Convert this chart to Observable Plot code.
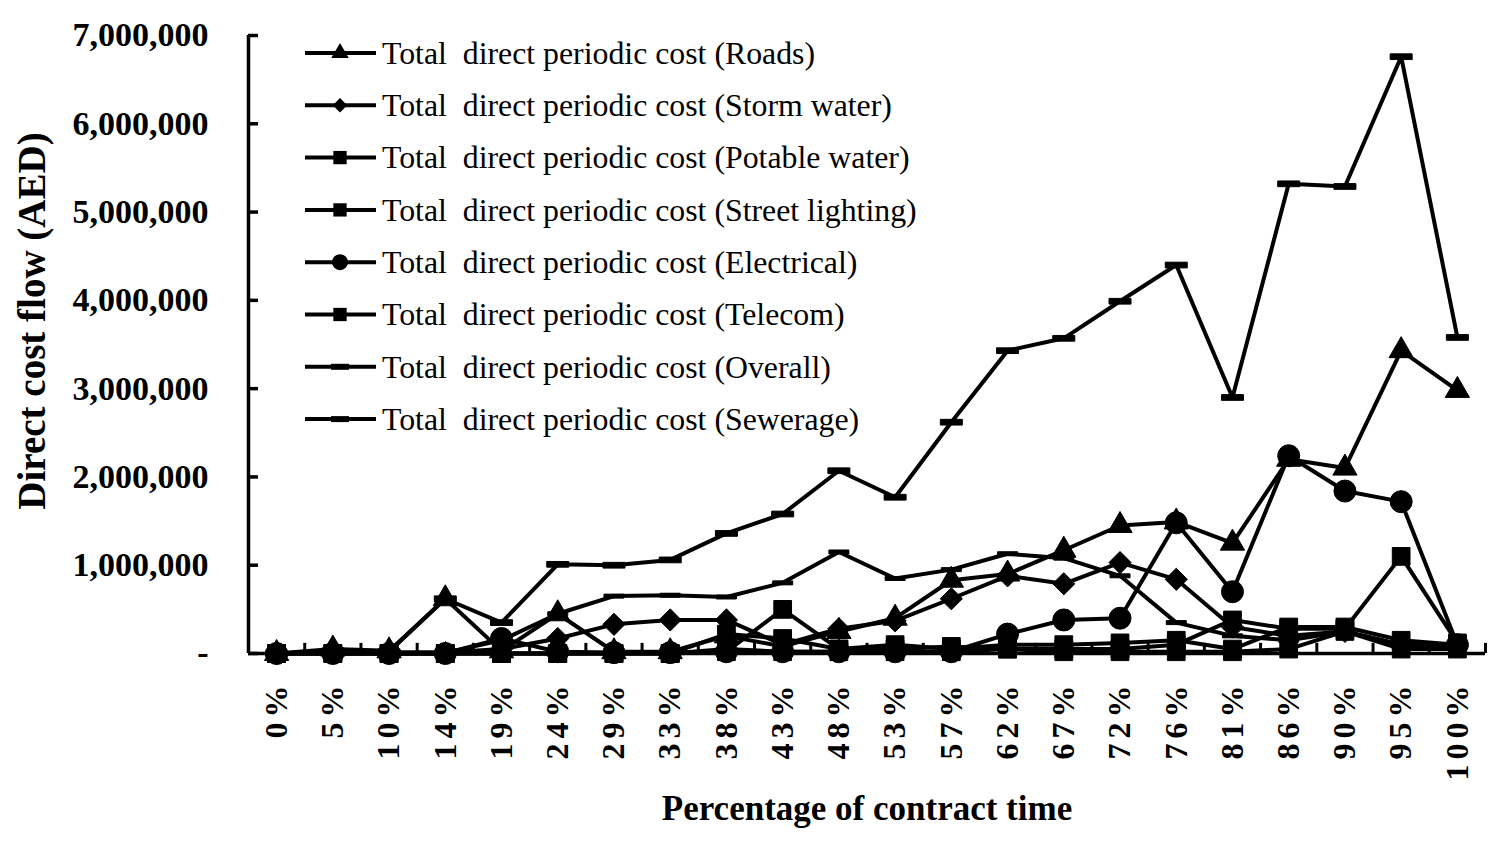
<!DOCTYPE html>
<html><head><meta charset="utf-8">
<script src="https://cdn.jsdelivr.net/npm/d3@7"></script>
<script src="https://cdn.jsdelivr.net/npm/@observablehq/plot@0.6"></script>
<style>
body{margin:0;background:#fff;}
svg{font-family:"Liberation Serif","Times New Roman",serif;}
</style>
</head><body><div id="chart"></div>
<script>
// ---- data (AED) ----
const categories = ["0%","5%","10%","14%","19%","24%","29%","33%","38%","43%","48%","53%","57%","62%","67%","72%","76%","81%","86%","90%","95%","100%"];
const roads       = [0, 50000, 30000, 620000, 30000, 450000, 20000, 20000, 200000, 80000, 250000, 400000, 830000, 900000, 1170000, 1450000, 1490000, 1250000, 2200000, 2100000, 3430000, 2980000];
const stormWater  = [0, 20000, 10000, 10000, 50000, 170000, 330000, 380000, 380000, 100000, 280000, 370000, 620000, 880000, 790000, 1030000, 840000, 300000, 200000, 250000, 100000, 80000];
const potable     = [0, 0, 0, 0, 0, 0, 0, 0, 20000, 500000, 50000, 50000, 80000, 50000, 50000, 50000, 100000, 380000, 280000, 280000, 1100000, 120000];
const streetLight = [0, 0, 0, 0, 0, 0, 0, 0, 220000, 170000, 50000, 100000, 50000, 100000, 100000, 120000, 150000, 50000, 300000, 300000, 150000, 100000];
const electrical  = [0, 0, 0, 0, 170000, 20000, 10000, 10000, 20000, 20000, 20000, 20000, 20000, 220000, 380000, 400000, 1480000, 700000, 2240000, 1840000, 1720000, 100000];
const telecom     = [0, 0, 0, 0, 0, 0, 0, 0, 50000, 20000, 20000, 20000, 20000, 50000, 20000, 20000, 20000, 20000, 50000, 250000, 50000, 50000];
const overall     = [0, 30000, 20000, 620000, 350000, 1010000, 1000000, 1060000, 1360000, 1580000, 2070000, 1770000, 2620000, 3430000, 3570000, 3990000, 4400000, 2900000, 5320000, 5290000, 6760000, 3580000];
const sewerage    = [0, 20000, 10000, 10000, 150000, 450000, 650000, 660000, 640000, 800000, 1150000, 850000, 950000, 1130000, 1080000, 880000, 350000, 200000, 150000, 250000, 100000, 80000];
const seriesNames = ["Roads","Storm water","Potable water","Street lighting","Electrical","Telecom","Overall","Sewerage"];
const yTicks = [0, 1000000, 2000000, 3000000, 4000000, 5000000, 6000000, 7000000];
const xTitle = "Percentage of contract time";
const yTitle = "Direct cost flow (AED)";

const dash = {draw(ctx, size){ const r = Math.sqrt(size/Math.PI); ctx.rect(-r, -r*0.26, 2*r, r*0.52); }};
const dashSmall = {draw(ctx, size){ const r = Math.sqrt(size/Math.PI); ctx.rect(-r, -r*0.2, 2*r, r*0.4); }};

const defs = [
  {name: seriesNames[0], values: roads,       symbol: "triangle", r: 9,  lr: 6.5},
  {name: seriesNames[1], values: stormWater,  symbol: "diamond2", r: 10, lr: 6.5},
  {name: seriesNames[2], values: potable,     symbol: "square",   r: 10, lr: 7.5},
  {name: seriesNames[3], values: streetLight, symbol: "square",   r: 10, lr: 7.5},
  {name: seriesNames[4], values: electrical,  symbol: "circle",   r: 11, lr: 8},
  {name: seriesNames[5], values: telecom,     symbol: "square",   r: 10, lr: 7.5},
  {name: seriesNames[6], values: overall,     symbol: dash,       r: 11, lr: 0},
  {name: seriesNames[7], values: sewerage,    symbol: dashSmall,  r: 10, lr: 0}
];
const data = defs.flatMap(s => s.values.map((v, i) => ({series: s.name, i, value: v})));

const fmt = d => d === 0 ? "-" : d3.format(",")(d);
const W = 1500, H = 841;

const chart = Plot.plot({
  width: W, height: H,
  marginLeft: 248, marginRight: 15, marginTop: 35, marginBottom: 188,
  style: {fontFamily: "Liberation Serif, Times New Roman, serif", background: "white", color: "black"},
  x: {type: "linear", domain: [-0.5, categories.length - 0.5], axis: null},
  y: {domain: [0, 7000000], axis: null},
  marks: [
    Plot.ruleY([0], {stroke: "black", strokeWidth: 3.5}),
    Plot.ruleX([-0.5], {stroke: "black", strokeWidth: 3.5}),
    Plot.ruleY(yTicks, {y: d => d, x1: -0.5, x2: -0.5 + 10/56.2, stroke: "black", strokeWidth: 3.5}),
    Plot.ruleX(categories, {x: (d, i) => i + 0.5, y1: 0, y2: 115000, stroke: "black", strokeWidth: 3}),
    Plot.text(yTicks, {x: -0.5, y: d => d, text: fmt, textAnchor: "end", dx: -40, fontSize: 34, fontWeight: "bold", fill: "black"}),
    Plot.text(categories, {x: (d, i) => i, y: 0, text: d => d, rotate: -90, textAnchor: "end", dy: 27, fontSize: 32, fontWeight: "bold", fill: "black"}),
    Plot.text([xTitle], {frameAnchor: "bottom", text: d => d, dy: 166, fontSize: 35, fontWeight: "bold", fill: "black"}),
    Plot.line(data, {x: "i", y: "value", z: "series", stroke: "black", strokeWidth: 4, strokeLinejoin: "miter"}),
    ...defs.map(s => Plot.dot(data.filter(d => d.series === s.name), {x: "i", y: "value", symbol: s.symbol, r: s.r, fill: "black", stroke: "black", strokeWidth: 1}))
  ]
});
document.getElementById("chart").appendChild(chart);

// letter spacing for x tick labels
d3.select(chart).selectAll("text").filter(function(){ return /%$/.test(this.textContent); }).style("letter-spacing", "5px");

// y-axis title
d3.select(chart).append("text")
  .attr("transform", "translate(32,321) rotate(-90)")
  .attr("text-anchor", "middle").attr("dy", "0.34em")
  .attr("font-size", 39).attr("font-weight", "bold").attr("fill", "black")
  .text(yTitle);

// legend (inside plot, top-left)
const lg = d3.select(chart).append("g").attr("class", "legend").attr("text-anchor", "start");
defs.forEach((s, k) => {
  const cy = 53 + k * 52.3;
  const g = lg.append("g").attr("transform", `translate(0,${cy})`);
  g.append("line").attr("x1", 305).attr("x2", 376).attr("y1", 0).attr("y2", 0).attr("stroke", "black").attr("stroke-width", 4);
  if (s.lr > 0) {
    const sym = {triangle: d3.symbolTriangle, diamond2: d3.symbolDiamond2, square: d3.symbolSquare, circle: d3.symbolCircle}[s.symbol];
    g.append("path").attr("transform", "translate(340,0)").attr("d", d3.symbol(sym, Math.PI * s.lr * s.lr)()).attr("fill", "black");
  } else {
    g.append("rect").attr("x", 331).attr("y", -3).attr("width", 18).attr("height", 6).attr("fill", "black");
  }
  g.append("text").attr("x", 382).attr("y", 0).attr("dy", "0.34em")
    .attr("text-anchor", "start")
    .style("white-space", "pre").attr("xml:space", "preserve")
    .attr("font-size", 31.8).attr("fill", "black")
    .text(`Total  direct periodic cost (${s.name})`);
});
</script>
</body></html>
